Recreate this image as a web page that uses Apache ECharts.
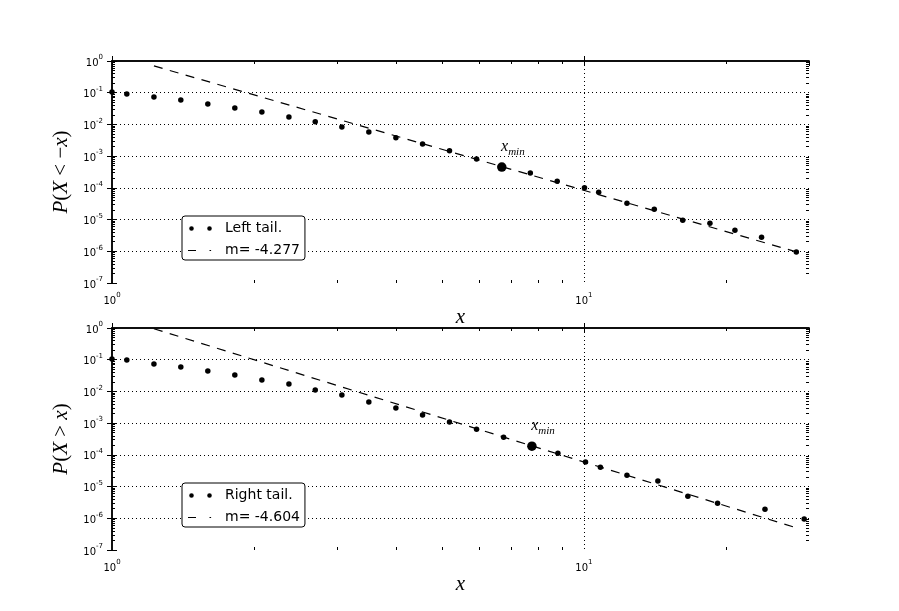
<!DOCTYPE html>
<html lang="en">
<head>
  <meta charset="UTF-8">
  <title>Tail fits</title>
  <script src="https://cdn.jsdelivr.net/npm/echarts@6.0.0/dist/echarts.min.js"></script>
  <style>html, body { margin: 0; padding: 0; background: #fff; }</style>
</head>
<body>
  <div id="main" style="width: 899px;height:611px;"></div>
  <script type="text/javascript">
    // Left tail (top panel)
    var leftX = [1.0, 1.075, 1.227, 1.399, 1.596, 1.821, 2.078, 2.371, 2.696, 3.070, 3.502, 3.996, 4.551,
                 5.191, 5.924, 6.70, 7.70, 8.78, 10.03, 10.75, 12.34, 14.10, 16.2, 18.5, 20.9, 23.8, 28.2];
    var leftY = [0.106, 0.0918, 0.0738, 0.0593, 0.0443, 0.0331, 0.0247, 0.0172, 0.01224, 0.0083, 0.00577,
                 0.00382, 0.00241, 0.00148, 0.000809, 0.000452, 0.000292, 0.000163, 0.0001004, 7.33e-5,
                 3.29e-5, 2.13e-5, 9.55e-6, 7.68e-6, 4.61e-6, 2.77e-6, 9.53e-7];
    var leftMin = [6.70, 4.52e-4];
    var leftFitX = [1.227, 28.2];
    var leftFitY = [0.70, 9.6e-7];

    // Right tail (bottom panel)
    var rightX = [1.0, 1.075, 1.227, 1.399, 1.596, 1.821, 2.078, 2.371, 2.696, 3.070, 3.502, 3.996, 4.551,
                  5.191, 5.924, 6.76, 7.76, 8.81, 10.08, 10.84, 12.34, 14.35, 16.61, 19.2, 24.2, 29.3];
    var rightY = [0.105, 0.0976, 0.0729, 0.0587, 0.0439, 0.0328, 0.0228, 0.0171, 0.0110, 0.00766, 0.0046,
                  0.00298, 0.00179, 0.00108, 0.000647, 3.61e-4, 1.88e-4, 1.13e-4, 6.0e-5, 4.08e-5,
                  2.28e-5, 1.51e-5, 4.95e-6, 2.98e-6, 1.93e-6, 9.5e-7];
    var rightMin = [7.76, 1.88e-4];
    var rightFitX = [1.227, 28.4];
    var rightFitY = [0.95, 4.85e-7];

    // Axis ranges and minor tick values
    var xRange = [1, 30];
    var yRange = [1e-7, 1];
    var xMinorTicks = [2, 3, 4, 5, 6, 7, 8, 9, 20];
    var yMinorSteps = [2, 3, 4, 5, 6, 7, 8, 9];

    var panels = [
      { x: leftX, y: leftY, min: leftMin, fitX: leftFitX, fitY: leftFitY,
        name: 'Left tail.', fitName: 'm= -4.277', ylabel: '{i|P}{u|(}{i|X}{u| < −}{i|x}{u|)}',
        top: 61, legendTop: 216 },
      { x: rightX, y: rightY, min: rightMin, fitX: rightFitX, fitY: rightFitY,
        name: 'Right tail.', fitName: 'm= -4.604', ylabel: '{i|P}{u|(}{i|X}{u| > }{i|x}{u|)}',
        top: 328, legendTop: 483 }
    ];

    var zip = function (a, b) { return a.map(function (v, i) { return [v, b[i]]; }); };

    var xMinorPos = xMinorTicks.map(function (v) { return Math.log10(v); });
    var yMinorPos = [];
    for (var d = -7; d < 0; d++) {
      yMinorSteps.forEach(function (k) { yMinorPos.push(d + Math.log10(k)); });
    }

    var powLabel = function (v) {
      var e = Math.log10(v);
      var r = Math.round(e);
      if (Math.abs(e - r) > 1e-6) return '';
      return '{b|10}{s|' + r + '}';
    };
    var tickRich = {
      b: { fontFamily: 'DejaVu Sans', fontSize: 10, color: '#000', lineHeight: 14, verticalAlign: 'bottom' },
      s: { fontFamily: 'DejaVu Sans', fontSize: 7, color: '#000', lineHeight: 14, verticalAlign: 'top' }
    };
    var mathRich = {
      i: { fontFamily: 'Liberation Serif', fontStyle: 'italic', fontSize: 21, color: '#000' },
      u: { fontFamily: 'Liberation Serif', fontSize: 21, color: '#000' }
    };
    var frame = { show: true, lineStyle: { color: '#000', width: 1.5 } };
    var majorTick = { show: true, inside: true, length: 5, lineStyle: { color: '#000', width: 1 } };
    var gridDots = { show: true, showMinLine: false, showMaxLine: false,
                     lineStyle: { color: '#000', width: 1, type: [1, 3] } };
    var grid = [], xAxis = [], yAxis = [], series = [], legend = [];

    panels.forEach(function (p, g) {
      grid.push({ left: 112, top: p.top, width: 697, height: 222, containLabel: false });
      var minorTick = function (vals) {
        return { show: true, inside: true, length: 3, customValues: vals, lineStyle: { color: '#000', width: 1 } };
      };
      // x axes: main bottom, top frame, bottom minor, top minor
      xAxis.push({
        type: 'log', logBase: 10, gridIndex: g, position: 'bottom', min: xRange[0], max: xRange[1], interval: 1,
        axisLine: frame, axisTick: majorTick,
        axisLabel: { formatter: powLabel, margin: 9, rich: tickRich, showMaxLabel: false },
        splitLine: gridDots,
        name: 'x', nameLocation: 'middle', nameGap: 22,
        nameTextStyle: { fontFamily: 'Liberation Serif', fontStyle: 'italic', fontSize: 21, color: '#000' }
      });
      xAxis.push({
        type: 'log', logBase: 10, gridIndex: g, position: 'top', min: xRange[0], max: xRange[1], interval: 1,
        axisLine: frame, axisTick: majorTick, axisLabel: { show: false }, splitLine: { show: false }
      });
      ['bottom', 'top'].forEach(function (pos) {
        xAxis.push({
          type: 'value', gridIndex: g, position: pos, min: 0, max: Math.log10(xRange[1]),
          axisLine: { show: false }, axisTick: minorTick(xMinorPos), axisLabel: { show: false }, splitLine: { show: false }
        });
      });
      // y axes: main left, right frame, left minor, right minor
      yAxis.push({
        type: 'log', logBase: 10, gridIndex: g, position: 'left', min: yRange[0], max: yRange[1], interval: 1,
        axisLine: frame, axisTick: majorTick,
        axisLabel: { formatter: powLabel, margin: 9, rich: tickRich },
        splitLine: gridDots,
        name: p.ylabel, nameLocation: 'middle', nameGap: 38, nameRotate: 90,
        nameTextStyle: { rich: mathRich }
      });
      yAxis.push({
        type: 'log', logBase: 10, gridIndex: g, position: 'right', min: yRange[0], max: yRange[1], interval: 1,
        axisLine: frame, axisTick: majorTick, axisLabel: { show: false }, splitLine: { show: false }
      });
      ['left', 'right'].forEach(function (pos) {
        yAxis.push({
          type: 'value', gridIndex: g, position: pos, min: -7, max: 0,
          axisLine: { show: false }, axisTick: minorTick(yMinorPos), axisLabel: { show: false }, splitLine: { show: false }
        });
      });

      var xi = 4 * g, yi = 4 * g;
      series.push({
        name: p.fitName, type: 'line', xAxisIndex: xi, yAxisIndex: yi,
        data: zip(p.fitX, p.fitY), showSymbol: false, symbol: 'none',
        lineStyle: { color: '#000', width: 1.2, type: [9, 7.5] }, itemStyle: { color: '#000' }
      });
      series.push({
        name: p.name, type: 'scatter', xAxisIndex: xi, yAxisIndex: yi,
        data: zip(p.x, p.y), symbolSize: 5.5, itemStyle: { color: '#000', opacity: 1 }
      });
      series.push({
        name: 'xmin' + g, type: 'scatter', xAxisIndex: xi, yAxisIndex: yi,
        data: [p.min], symbolSize: 9.5, itemStyle: { color: '#000', opacity: 1 },
        label: {
          show: true, position: [4, -26], align: 'left', verticalAlign: 'top',
          formatter: '{x|x}{m|min}',
          rich: {
            x: { fontFamily: 'Liberation Serif', fontStyle: 'italic', fontSize: 16, color: '#000', lineHeight: 18, verticalAlign: 'bottom' },
            m: { fontFamily: 'Liberation Serif', fontStyle: 'italic', fontSize: 11, color: '#000', lineHeight: 18, verticalAlign: 'bottom', padding: [0, 0, -3, 0] }
          }
        }
      });

      legend.push({
        left: 182, top: p.legendTop, orient: 'vertical', itemWidth: 24, itemHeight: 6, itemGap: 7,
        padding: [5, 5, 2, 6], borderColor: '#000', borderWidth: 1, borderRadius: 3, backgroundColor: '#fff',
        selectedMode: false,
        textStyle: { fontFamily: 'DejaVu Sans', fontSize: 14, color: '#000', lineHeight: 15, padding: [0, 0, 0, 8] },
        data: [
          { name: p.name, itemStyle: { color: '#000', borderWidth: 0 },
            icon: 'path://M0,0h0.01v4.6h-0.01zM1.2,2.3a2.3,2.3 0 1,0 4.6,0a2.3,2.3 0 1,0 -4.6,0zM19.2,2.3a2.3,2.3 0 1,0 4.6,0a2.3,2.3 0 1,0 -4.6,0zM23.99,0h0.01v4.6h-0.01z' },
          { name: p.fitName, itemStyle: { color: '#000', borderWidth: 0 }, lineStyle: { width: 0 },
            icon: 'path://M0,0h8v1.2h-8zM21.5,0h1.6v1.2h-1.6zM23.99,0h0.01v1.2h-0.01z' }
        ]
      });
    });

    var myChart = echarts.init(document.getElementById('main'));
    myChart.setOption({
      animation: false,
      backgroundColor: '#fff',
      grid: grid,
      xAxis: xAxis,
      yAxis: yAxis,
      legend: legend,
      series: series
    });
  </script>
</body>
</html>
